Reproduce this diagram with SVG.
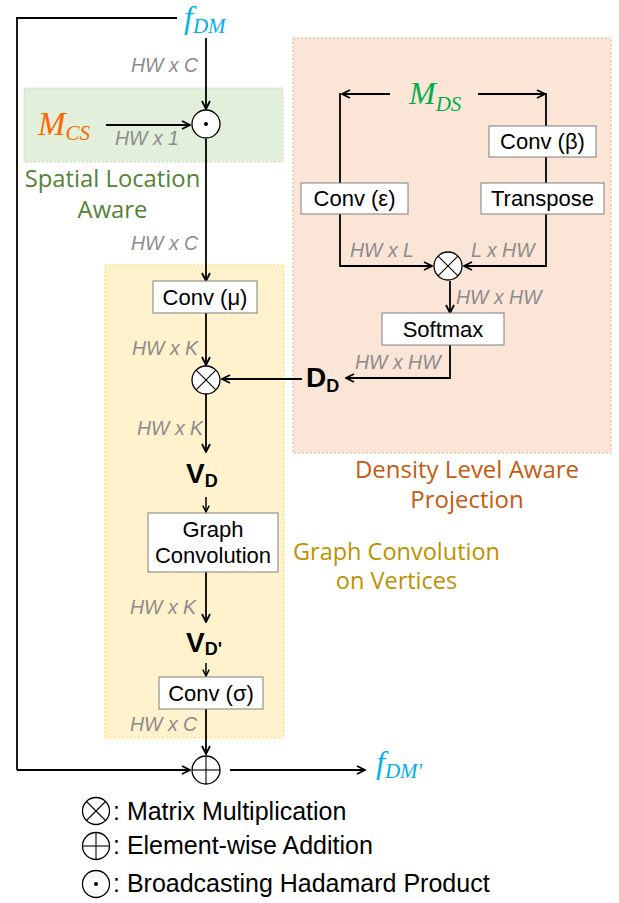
<svg xmlns="http://www.w3.org/2000/svg" width="619" height="903" viewBox="0 0 619 903">
<defs>
<marker id="ah" viewBox="0 0 10 10" markerUnits="userSpaceOnUse" markerWidth="10" markerHeight="10" refX="9" refY="5" orient="auto">
<path d="M1,1 L9,5 L1,9" fill="none" stroke="#000" stroke-width="1.8"/>
</marker>
<marker id="ahs" viewBox="0 0 10 10" markerUnits="userSpaceOnUse" markerWidth="8" markerHeight="8" refX="9" refY="5" orient="auto">
<path d="M1,1 L9,5 L1,9" fill="none" stroke="#000" stroke-width="1.8"/>
</marker>
</defs>
<style>
.ln{fill:none;stroke:#000;stroke-width:1.8}
.ar{fill:none;stroke:#000;stroke-width:1.8;marker-end:url(#ah)}
.ars{fill:none;stroke:#000;stroke-width:1.5;marker-end:url(#ahs)}
.box{fill:#fff;stroke:#7f7f7f;stroke-width:1}
.bt{font-family:"Liberation Sans",Arial,sans-serif;font-size:22px;fill:#000;text-anchor:middle}
.dim{font-family:"Liberation Sans",Arial,sans-serif;font-size:19.5px;font-style:italic;fill:#8c8c8c}
.op{fill:#fff;stroke:#000;stroke-width:1.3}
.opl{stroke:#000;stroke-width:1.1}
.reg{font-family:"Open Sans",sans-serif;text-anchor:middle}
.math{font-family:"Liberation Serif","Times New Roman",serif;font-style:italic}
.bold{font-family:"Liberation Sans",Arial,sans-serif;font-weight:bold;fill:#000}
.leg{font-family:"Liberation Sans",Arial,sans-serif;font-size:25px;fill:#000}
</style>

<g id="regions">
<rect id="region-spatial" x="24" y="88" width="259" height="74" fill="#e2efda" stroke="#c9dcb8" stroke-width="1" stroke-dasharray="2,2"/>
<rect id="region-density" x="293" y="38" width="318" height="415" fill="#fbe5d6" stroke="#f4b183" stroke-width="1" stroke-dasharray="2,2"/>
<rect id="region-graph" x="105" y="265" width="179" height="473" fill="#fff2cc" stroke="#ffd966" stroke-width="1" stroke-dasharray="2,2"/>
<text class="reg" font-size="23.8" fill="#548235"><tspan x="112.5" y="187">Spatial Location</tspan><tspan x="112.5" y="218">Aware</tspan></text>
<text class="reg" font-size="24" fill="#c55a11"><tspan x="467" y="478">Density Level Aware</tspan><tspan x="467" y="508">Projection</tspan></text>
<text class="reg" font-size="23.5" fill="#bf9000"><tspan x="396.5" y="560">Graph Convolution</tspan><tspan x="396.5" y="589">on Vertices</tspan></text>
</g>

<g id="connectors">
<polyline class="ln" points="177,18 17,18 17,770"/>
<line class="ar" x1="17" y1="770" x2="190" y2="770"/>
<line class="ar" x1="206" y1="38" x2="206" y2="109"/>
<line class="ar" x1="106" y1="125" x2="190" y2="125"/>
<line class="ar" x1="206" y1="139" x2="206" y2="281"/>
<line class="ar" x1="206" y1="313" x2="206" y2="365"/>
<line class="ar" x1="206" y1="394" x2="206" y2="452"/>
<line class="ars" x1="206" y1="497" x2="206" y2="512"/>
<line class="ar" x1="206" y1="572" x2="206" y2="622"/>
<line class="ars" x1="206" y1="663" x2="206" y2="676"/>
<line class="ar" x1="206" y1="709" x2="206" y2="754"/>
<line class="ar" x1="230" y1="770" x2="365" y2="770"/>
<line class="ar" x1="302" y1="379" x2="222" y2="379"/>
<line class="ar" x1="390" y1="94" x2="342" y2="94"/>
<line class="ln" x1="340" y1="93" x2="340" y2="183"/>
<line class="ar" x1="478" y1="94" x2="545" y2="94"/>
<line class="ln" x1="546" y1="93" x2="546" y2="126"/>
<line class="ln" x1="546" y1="157" x2="546" y2="183"/>
<polyline class="ar" points="340,214 340,266 432,266"/>
<polyline class="ar" points="546,214 546,266 464,266"/>
<line class="ar" x1="450" y1="281" x2="450" y2="313"/>
<polyline class="ar" points="450,345 450,378 346,378"/>
</g>

<g id="labels">
<text class="dim" x="131" y="72">HW x C</text>
<text class="dim" x="115" y="145">HW x 1</text>
<text class="dim" x="131" y="250">HW x C</text>
<text class="dim" x="132" y="355">HW x K</text>
<text class="dim" x="137" y="435">HW x K</text>
<text class="dim" x="130" y="614">HW x K</text>
<text class="dim" x="130" y="731">HW x C</text>
<text class="dim" x="350" y="257">HW x L</text>
<text class="dim" x="471" y="257">L x HW</text>
<text class="dim" x="456" y="304">HW x HW</text>
<text class="dim" x="355" y="369">HW x HW</text>
</g>

<g id="f_DM"><text class="math" x="184" y="28" font-size="32" fill="#00b0f0">f<tspan font-size="21" dy="5">DM</tspan></text></g>
<g id="M_CS"><text class="math" x="38" y="135" font-size="33" fill="#ff6600">M<tspan font-size="21" dy="5">CS</tspan></text></g>
<g id="M_DS"><text class="math" x="409" y="104" font-size="32" fill="#00b050">M<tspan font-size="21" dy="7">DS</tspan></text></g>
<g id="f_DMp"><text class="math" x="376" y="773" font-size="32" fill="#00b0f0">f<tspan font-size="21" dy="5">DM'</tspan></text></g>

<g id="hadamard">
<circle class="op" cx="206" cy="124" r="14"/>
<circle cx="206" cy="124" r="2" fill="#000"/>
</g>

<g id="conv-mu"><rect class="box" x="153" y="281" width="104" height="32"/><text class="bt" x="205" y="305">Conv (μ)</text></g>

<g id="matmul-1">
<circle class="op" cx="206" cy="380" r="14"/>
<line class="opl" x1="196.1" y1="370.1" x2="215.9" y2="389.9"/>
<line class="opl" x1="215.9" y1="370.1" x2="196.1" y2="389.9"/>
</g>

<g id="D_D"><text class="bold" x="306" y="387" font-size="28">D<tspan font-size="18" dy="5">D</tspan></text></g>
<g id="V_D"><text class="bold" x="186" y="483" font-size="28">V<tspan font-size="18" dy="4">D</tspan></text></g>

<g id="graph-conv"><rect class="box" x="148" y="513" width="130" height="59"/><text class="bt" x="213" y="537">Graph</text><text class="bt" x="213" y="563">Convolution</text></g>

<g id="V_Dp"><text class="bold" x="186" y="652" font-size="28">V<tspan font-size="18" dy="3">D'</tspan></text></g>

<g id="conv-sigma"><rect class="box" x="159" y="677" width="104" height="32"/><text class="bt" x="211" y="701">Conv (σ)</text></g>

<g id="add">
<circle class="op" cx="206" cy="770" r="14"/>
<line class="opl" x1="192" y1="770" x2="220" y2="770"/>
<line class="opl" x1="206" y1="756" x2="206" y2="784"/>
</g>

<g id="conv-eps"><rect class="box" x="301" y="183" width="107" height="31"/><text class="bt" x="354.5" y="206">Conv (ε)</text></g>
<g id="conv-beta"><rect class="box" x="489" y="126" width="107" height="31"/><text class="bt" x="542.5" y="149">Conv (β)</text></g>
<g id="transpose"><rect class="box" x="481" y="183" width="123" height="31"/><text class="bt" x="542.5" y="206">Transpose</text></g>

<g id="matmul-2">
<circle class="op" cx="448" cy="266" r="14"/>
<line class="opl" x1="438.1" y1="256.1" x2="457.9" y2="275.9"/>
<line class="opl" x1="457.9" y1="256.1" x2="438.1" y2="275.9"/>
</g>

<g id="softmax"><rect class="box" x="382" y="313" width="122" height="32"/><text class="bt" x="443" y="337">Softmax</text></g>

<g id="legend">
<circle class="op" cx="96" cy="811" r="13.5"/>
<line class="opl" x1="86.5" y1="801.5" x2="105.5" y2="820.5"/>
<line class="opl" x1="105.5" y1="801.5" x2="86.5" y2="820.5"/>
<text class="leg" x="113" y="820">: Matrix Multiplication</text>
<circle class="op" cx="96" cy="846" r="13.5"/>
<line class="opl" x1="82.5" y1="846" x2="109.5" y2="846"/>
<line class="opl" x1="96" y1="832.5" x2="96" y2="859.5"/>
<text class="leg" x="113" y="854">: Element-wise Addition</text>
<circle class="op" cx="96" cy="884" r="13.5"/>
<circle cx="96" cy="884" r="2" fill="#000"/>
<text class="leg" x="113" y="892">: Broadcasting Hadamard Product</text>
</g>
</svg>
